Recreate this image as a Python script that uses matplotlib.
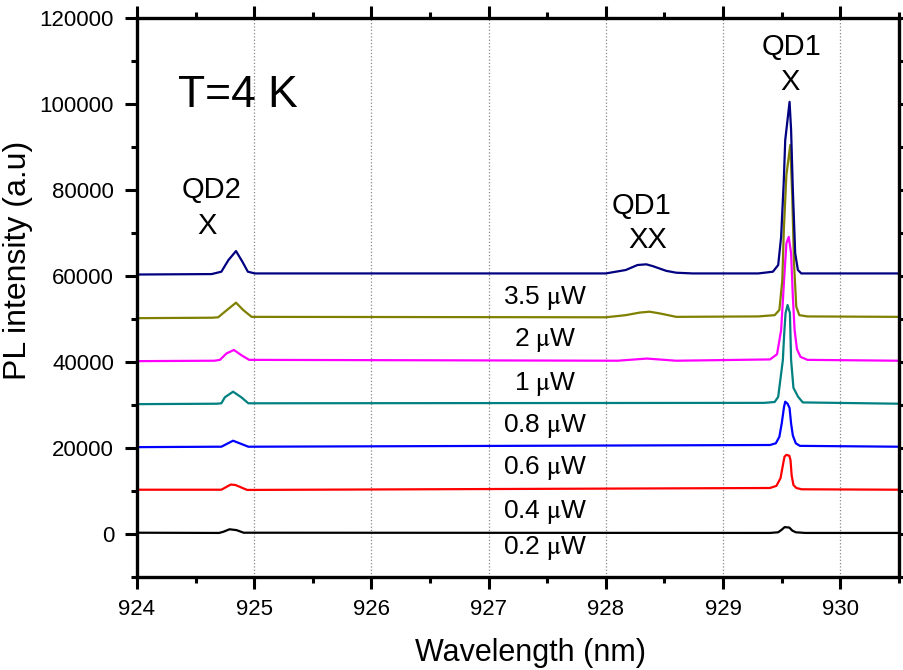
""" PL spectra vs excitation power """
from matplotlib import pyplot as plt
from matplotlib.ticker import MultipleLocator

plt.rcParams["font.family"] = ["Liberation Sans", "DejaVu Sans"]
plt.rcParams["mathtext.fontset"] = "stix"

# spectra, each offset by 10000 per power step
wl_02 = [924.0, 924.7, 924.735, 924.79, 924.85, 924.91, 929.40, 929.47, 929.50, 929.525, 929.565,
         929.59, 929.62, 929.7, 930.5]
pl_02 = [300, 250, 500, 1100, 900, 300, 250, 400, 1000, 1600, 1500, 800, 400, 250, 250]

wl_04 = [924.0, 924.68, 924.72, 924.80, 924.84, 924.94, 929.40, 929.455, 929.49, 929.51, 929.524,
         929.54, 929.565, 929.575, 929.585, 929.60, 929.625, 929.67, 930.5]
pl_04 = [10300, 10300, 10300, 11500, 11400, 10250, 10700, 11200, 13000, 16000, 18000, 18400, 18200,
         17200, 13600, 11400, 10700, 10400, 10300]

wl_06 = [924.0, 924.68, 924.72, 924.82, 924.95, 929.40, 929.45, 929.48, 929.50, 929.52, 929.53,
         929.55, 929.567, 929.58, 929.595, 929.62, 929.655, 930.5]
pl_06 = [20200, 20300, 20300, 21700, 20300, 20700, 21100, 22600, 25700, 29600, 30770, 30300, 29300,
         25700, 22900, 21100, 20500, 20300]

wl_08 = [924.0, 924.68, 924.72, 924.75, 924.82, 924.89, 924.95, 929.35, 929.44, 929.47, 929.51,
         929.52, 929.533, 929.55, 929.57, 929.58, 929.60, 929.64, 929.68, 930.5]
pl_08 = [30200, 30300, 30400, 31800, 33100, 31800, 30400, 30500, 30700, 31900, 40500, 46000, 51400,
         53250, 51400, 40500, 34000, 31900, 30600, 30300]

wl_1 = [924.0, 924.66, 924.708, 924.764, 924.827, 924.89, 924.957, 928.1, 928.35, 928.6, 929.40,
        929.46, 929.495, 929.52, 929.54, 929.56, 929.58, 929.595, 929.61, 929.63, 929.66, 929.72,
        930.5]
pl_1 = [40200, 40300, 40500, 42000, 42800, 41600, 40500, 40300, 40800, 40300, 40600, 41800, 47400,
        59000, 67600, 69100, 65300, 55200, 47400, 43000, 41200, 40500, 40300]

wl_2 = [924.0, 924.64, 924.693, 924.75, 924.845, 924.906, 924.978, 928.0, 928.17, 928.29, 928.373,
        928.46, 928.6, 929.30, 929.44, 929.48, 929.505, 929.518, 929.54, 929.573, 929.59, 929.605,
        929.624, 929.65, 929.72, 930.5]
pl_2 = [50200, 50300, 50400, 51700, 53800, 52100, 50500, 50400, 50900, 51500, 51700, 51300, 50500,
        50600, 50900, 52100, 59000, 70700, 83500, 90460, 78400, 63000, 52900, 50900, 50600, 50500]

wl_35 = [924.0, 924.637, 924.72, 924.78, 924.845, 924.90, 924.946, 925.006, 928.0, 928.17, 928.27,
         928.345, 928.40, 928.515, 928.60, 928.74, 929.30, 929.425, 929.47, 929.495, 929.518, 929.53,
         929.54, 929.567, 929.58, 929.595, 929.615, 929.638, 929.667, 929.8, 930.5]
pl_35 = [60350, 60450, 61000, 63700, 65800, 63300, 61000, 60600, 60600, 61400, 62560, 62720, 62300,
         61200, 60770, 60600, 60600, 61000, 62560, 69100, 82300, 91600, 94000, 100500, 94000, 80000,
         65300, 61400, 60600, 60600, 60600]

spectra = [
    (wl_02, pl_02, "black"),
    (wl_04, pl_04, "#ff0000"),
    (wl_06, pl_06, "#0000ff"),
    (wl_08, pl_08, "#008080"),
    (wl_1, pl_1, "#ff00ff"),
    (wl_2, pl_2, "#808000"),
    (wl_35, pl_35, "#000080"),
]

power_labels = ["0.2", "0.4", "0.6", "0.8", "1", "2", "3.5"]
label_y = [-3300, 5100, 15300, 25100, 34900, 45100, 54900]

fig = plt.figure(figsize=(9.04, 6.70), dpi=100)
ax = fig.add_axes([0.1515, 0.1388, 0.8429, 0.8343])

for wl, pl, c in spectra:
    ax.plot(wl, pl, color=c, lw=1.6)

for p, y in zip(power_labels, label_y):
    ax.text(927.48, y, p + r" $\mathrm{\mu}$W", fontsize=19, ha="center", va="center")

ax.text(924.86, 102000, "T=4 K", fontsize=32, ha="center", va="center")
ax.text(924.64, 80000, "QD2", fontsize=21, ha="center", va="center")
ax.text(924.6, 71600, "X", fontsize=21, ha="center", va="center")
ax.text(928.30, 76300, "QD1", fontsize=21, ha="center", va="center")
ax.text(928.36, 68400, "XX", fontsize=21, ha="center", va="center")
ax.text(929.58, 113300, "QD1", fontsize=21, ha="center", va="center")
ax.text(929.57, 105100, "X", fontsize=21, ha="center", va="center")

ax.set_xlim(924, 930.5)
ax.set_ylim(-10000, 120000)
ax.set_xticks(range(924, 931))
ax.xaxis.set_minor_locator(MultipleLocator(0.5))
ax.yaxis.set_major_locator(MultipleLocator(20000))
ax.yaxis.set_minor_locator(MultipleLocator(10000))
ax.tick_params(which="both", direction="out", top=True, right=True, width=2.2, labelsize=16)
ax.tick_params(which="major", length=8.5)
ax.tick_params(which="minor", length=4.5)
ax.tick_params(axis="x", pad=7)
ax.tick_params(axis="y", pad=8)
ax.grid(axis="x", which="major", color="#888888", ls=":", lw=0.9)
for s in ax.spines.values():
    s.set_linewidth(2.4)

ax.set_xlabel("Wavelength (nm)", fontsize=22)
ax.set_ylabel("PL intensity (a.u)", fontsize=23)
ax.xaxis.set_label_coords(0.517, -0.11)
ax.yaxis.set_label_coords(-0.137, 0.567)

plt.savefig("out.png", dpi=100)
